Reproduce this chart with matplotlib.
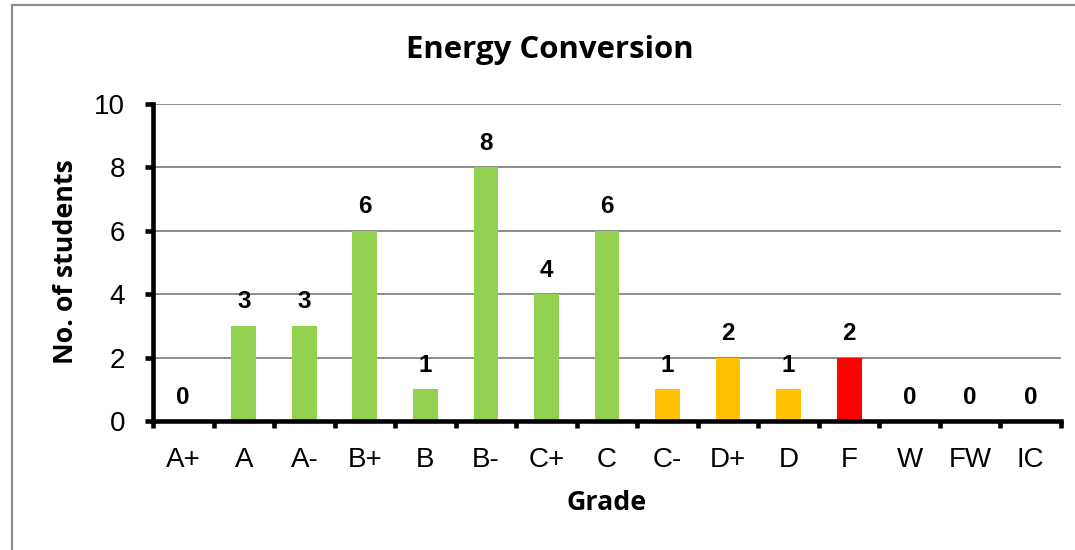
"""Energy Conversion grade distribution bar chart."""

import matplotlib.pyplot as plt
import numpy as np
from matplotlib.patches import Rectangle

grades = ["A+", "A", "A-", "B+", "B", "B-", "C+", "C", "C-", "D+", "D", "F", "W", "FW", "IC"]
counts = [0, 3, 3, 6, 1, 8, 4, 6, 1, 2, 1, 2, 0, 0, 0]
bar_colors = ["#92D050"] * 8 + ["#FFC000"] * 3 + ["#FF0000"] + ["#92D050"] * 3

fig = plt.figure(figsize=(10.75, 5.5), dpi=100)
ax = fig.add_axes([0.1423, 0.2345, 0.987 - 0.1423, 0.8109 - 0.2345])

# chart border
fig.patches.append(Rectangle((12 / 1075, -0.1), 1.2, 1 - 5 / 550 + 0.1, transform=fig.transFigure,
                             fill=False, edgecolor="#8c8c8c", lw=1.6))

x = np.arange(len(grades))
ax.bar(x, counts, width=0.41, color=bar_colors, zorder=2)
for xi, c in zip(x, counts):
    ax.annotate(str(c), (xi, c), xytext=(0, 9), textcoords="offset points",
                ha="center", va="bottom", fontsize=17.5, fontweight="bold", family="Liberation Sans")

ax.set_xlim(-0.5, len(grades) - 0.5)
ax.set_ylim(0, 10)
ax.set_yticks(range(0, 11, 2))
ax.set_xticks(x)
ax.set_xticklabels(grades)
ax.set_xticks(np.arange(-0.5, len(grades), 1.0), minor=True)
ax.grid(axis="y", color="#8c8c8c", lw=1.4, zorder=0)

for side in ("top", "right"):
    ax.spines[side].set_visible(False)
for side in ("left", "bottom"):
    ax.spines[side].set_linewidth(3.3)
    ax.spines[side].set_zorder(3)

ax.tick_params(axis="y", direction="out", length=6, width=3.3, pad=14, labelsize=20)
ax.tick_params(axis="x", which="major", length=0, pad=19, labelsize=20)
ax.tick_params(axis="x", which="minor", direction="out", length=5, width=3.3)
for lbl in ax.get_xticklabels() + ax.get_yticklabels():
    lbl.set_family("Liberation Sans")

fig.text(550 / 1075, 1 - 50 / 550, "Energy Conversion", ha="center", va="center",
         fontsize=22.4, fontweight="bold", family="Open Sans")
fig.text(66 / 1075, 1 - 262 / 550, "No. of students", ha="center", va="center", rotation=90,
         fontsize=19.3, fontweight="bold", family="Open Sans")
fig.text(607 / 1075, 1 - 503 / 550, "Grade", ha="center", va="center",
         fontsize=19.3, fontweight="bold", family="Open Sans")

fig.savefig("out.png", dpi=100)
plt.close(fig)
